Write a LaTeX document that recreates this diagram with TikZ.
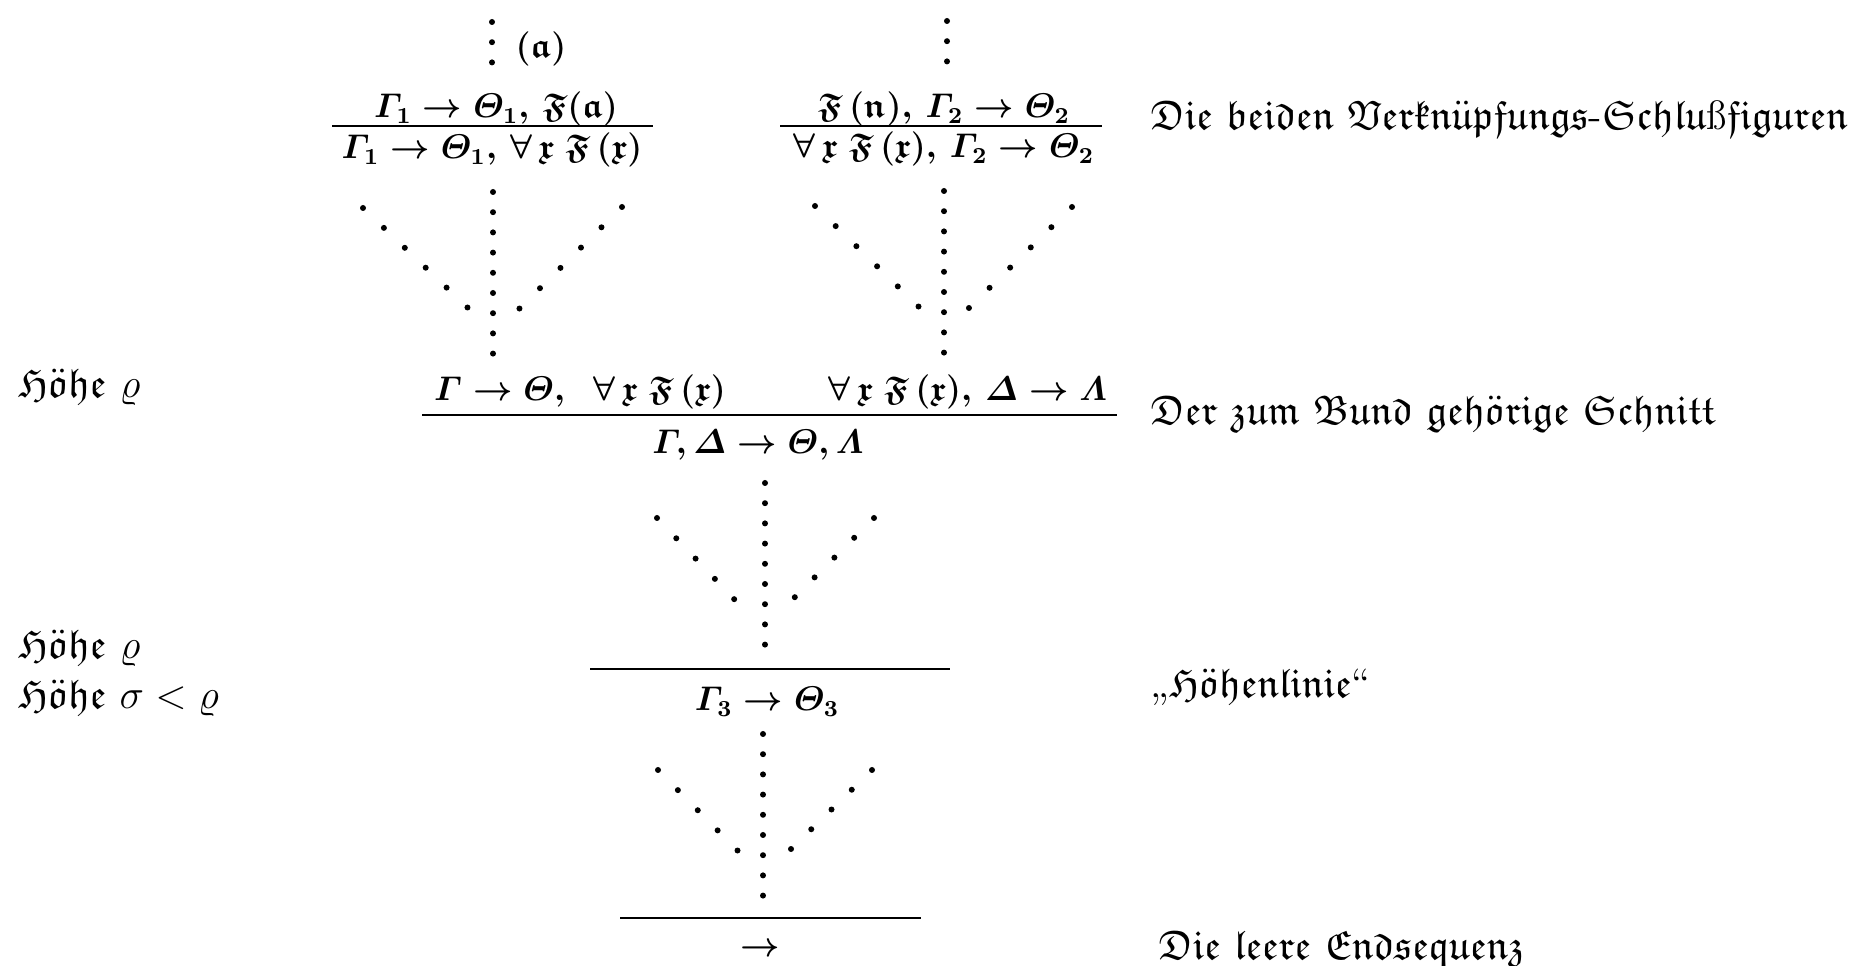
\documentclass[tikz,border=0pt]{standalone}
\usepackage{amsmath}
\usepackage{amssymb}
\usepackage{tikz}
\usetikzlibrary{positioning}

% one word in fraktur letters
\newcommand{\fw}[1]{\ensuremath{\mathfrak{#1}}}
% quantified formula, as in the premisses
\newcommand{\allF}{\forall\,\mathfrak{x}\;\mathfrak{F}\,(\mathfrak{x})}

\begin{document}
\begin{tikzpicture}[
  x=0.35pt, y=-0.35pt,
  seq/.style     = {anchor=base, inner sep=0pt, font=\large\boldmath},
  note/.style    = {anchor=base west, inner sep=0pt, font=\Large},
  rule/.style    = {line width=0.75pt},
  dotrow/.style  = {line width=2.1pt, line cap=round, shorten >=-1pt,
                    dash pattern=on 0pt off #1},
  dotrow/.default= 7.07pt,
]
\useasboundingbox (0,0) rectangle (1863,966);

% upper left: the premiss with eigenvariable
\node[seq] (var-a)  at (541,58)  {$(\mathfrak{a})$};
\node[seq] (l-prem) at (496,118) {$\varGamma_1 \to \varTheta_1,\, \mathfrak{F}(\mathfrak{a})$};
\node[seq] (l-conc) at (492,159) {$\varGamma_1 \to \varTheta_1,\, \allF$};
\draw[rule] (332,126) -- (653,126);

% upper right
\node[seq] (r-prem) at (944,118) {$\mathfrak{F}\,(\mathfrak{n}),\, \varGamma_2 \to \varTheta_2$};
\node[seq] (r-conc) at (944,158) {$\allF,\, \varGamma_2 \to \varTheta_2$};
\draw[rule] (780,126) -- (1102,126);

% the cut
\node[seq] (c-left)  at (580,401) {$\varGamma \to \varTheta,\;\; \allF$};
\node[seq] (c-right) at (968,401) {$\allF,\, \varDelta \to \varLambda$};
\node[seq] (c-conc)  at (758,454) {$\varGamma, \varDelta \to \varTheta, \varLambda$};
\draw[rule] (422,415) -- (1117,415);

% level line and end sequent
\node[seq] (level) at (767,711) {$\varGamma_3 \to \varTheta_3$};
\draw[rule] (590,669) -- (950,669);
\node[seq] (empty) at (760,957) {$\to$};
\draw[rule] (620,918) -- (921,918);

% notes
\node[note] (n-top)   at (1150,130) {\fw{Die}\ \fw{beiden}\ \fw{Verkn\ddot{u}pfungs}-\fw{Schlu}ß\fw{figuren}};
\node[note] (n-cut)   at (1150,425) {\fw{Der}\ \fw{zum}\ \fw{Bund}\ \fw{geh\ddot{o}rige}\ \fw{Schnitt}};
\node[note] (n-level) at (1150,698) {„\fw{H\ddot{o}henlinie}“};
\node[note] (n-end)   at (1158,960) {\fw{Die}\ \fw{leere}\ \fw{Endsequenz}};
\node[note] (h-cut)   at (18,398) {\fw{H\ddot{o}he}\ $\varrho$};
\node[note] (h-up)    at (18,659) {\fw{H\ddot{o}he}\ $\varrho$};
\node[note] (h-low)   at (18,709) {\fw{H\ddot{o}he}\ $\sigma < \varrho$};

% dots above the premisses
\coordinate (lt-a) at (492,22);  \coordinate (lt-b) at (492,62);
\coordinate (rt-a) at (947,21);  \coordinate (rt-b) at (947,61);
\draw[dotrow] (lt-a) -- (lt-b);
\draw[dotrow] (rt-a) -- (rt-b);

% left fan
\coordinate (lv-top) at (493,192); \coordinate (lv-bot) at (493,354);
\coordinate (ll-a) at (363,208);   \coordinate (ll-b) at (468,308);
\coordinate (lr-a) at (622,207);   \coordinate (lr-b) at (520,308);
\draw[dotrow] (lv-top) -- (lv-bot);
\draw[dotrow=10.1pt] (ll-a) -- (ll-b);
\draw[dotrow=10.1pt] (lr-a) -- (lr-b);

% right fan
\coordinate (rv-top) at (944,191); \coordinate (rv-bot) at (944,353);
\coordinate (rl-a) at (815,206);   \coordinate (rl-b) at (919,307);
\coordinate (rr-a) at (1072,207);  \coordinate (rr-b) at (971,306);
\draw[dotrow] (rv-top) -- (rv-bot);
\draw[dotrow=10.1pt] (rl-a) -- (rl-b);
\draw[dotrow=10.1pt] (rr-a) -- (rr-b);

% middle fan
\coordinate (mv-top) at (765,483); \coordinate (mv-bot) at (765,645);
\coordinate (ml-a) at (657,518);   \coordinate (ml-b) at (734,599);
\coordinate (mr-a) at (874,518);   \coordinate (mr-b) at (793,599);
\draw[dotrow] (mv-top) -- (mv-bot);
\draw[dotrow=9.8pt] (ml-a) -- (ml-b);
\draw[dotrow=9.8pt] (mr-a) -- (mr-b);

% lower fan
\coordinate (bv-top) at (763,734); \coordinate (bv-bot) at (763,896);
\coordinate (bl-a) at (658,770);   \coordinate (bl-b) at (737,850);
\coordinate (br-a) at (872,770);   \coordinate (br-b) at (790,850);
\draw[dotrow] (bv-top) -- (bv-bot);
\draw[dotrow=9.9pt] (bl-a) -- (bl-b);
\draw[dotrow=9.9pt] (br-a) -- (br-b);
\end{tikzpicture}
\end{document}
